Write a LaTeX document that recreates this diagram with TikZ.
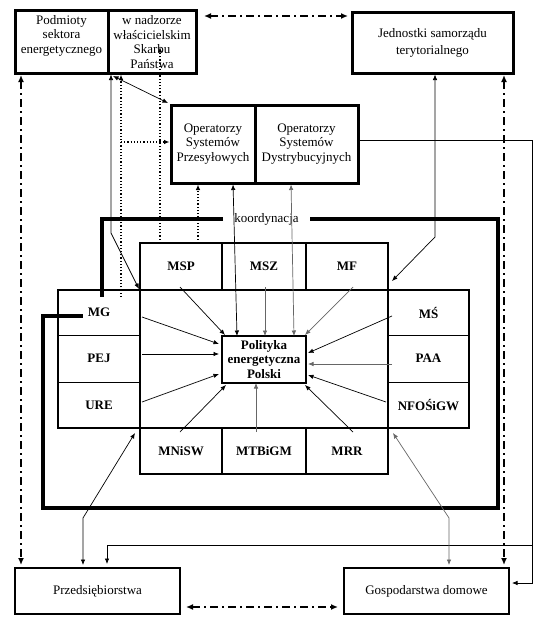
\documentclass[tikz,border=0pt]{standalone}
\usepackage{fontspec}
\setmainfont{Liberation Serif}
\usetikzlibrary{arrows.meta,calc}
\newcommand{\basefnt}{\fontsize{13}{14.5}\selectfont}
\tikzset{
  thickbox/.style={draw, line width=3pt, inner sep=0pt, outer sep=0pt, align=center},
  thinbox/.style={draw, line width=1.8pt, inner sep=0pt, outer sep=0pt, align=center},
  cell/.style={inner sep=0pt, outer sep=0pt, font=\basefnt\bfseries, align=center},
  txt/.style={inner sep=0pt, outer sep=0pt, align=center},
  conn/.style={line width=0.7pt, -{Latex[length=5.5pt,width=4.5pt]}},
  gconn/.style={conn, draw=black!60},
  biconn/.style={line width=0.7pt, {Latex[length=5.5pt,width=4.5pt]}-{Latex[length=5.5pt,width=4.5pt]}},
  gbiconn/.style={biconn, draw=black!60},
  dotconn/.style={line width=1.2pt, dash pattern=on 1.2pt off 2pt, -{Latex[length=5.5pt,width=4.5pt]}},
  ddash/.style={line width=2pt, dash pattern=on 8pt off 4pt on 2pt off 4pt, {Latex[length=7pt,width=6pt]}-{Latex[length=7pt,width=6pt]}},
  framepath/.style={line width=4pt, line join=miter},
  outl/.style={line width=2pt, line join=miter},
  divline/.style={line width=0.8pt}
}
\begin{document}
\begin{tikzpicture}[x=1pt,y=-1pt,font=\basefnt]
\useasboundingbox (0,0) rectangle (552,634);

% top boxes
\node[thickbox, minimum width=93pt, minimum height=62pt] (PSE) at (61.5,42) {};
\node[txt] (PSEt) at (61.5,35.5) {Podmioty\\sektora\\energetycznego};
\node[thickbox, minimum width=88pt, minimum height=62pt] (WNS) at (152,42) {w nadzorze\\właścicielskim\\Skarbu\\Państwa};
\node[thickbox, minimum width=161pt, minimum height=60pt] (JST) at (432.5,43) {Jednostki samorządu\\[2pt]terytorialnego};
\node[thickbox, minimum width=84pt, minimum height=78pt] (OSP) at (213,144) {Operatorzy\\Systemów\\Przesyłowych};
\node[thickbox, minimum width=103pt, minimum height=78pt] (OSD) at (306.5,144) {Operatorzy\\Systemów\\Dystrybucyjnych};

% cells
\node[cell, minimum width=82pt, minimum height=47pt] (MSP) at (181,266.5) {MSP};
\node[cell, minimum width=84pt, minimum height=47pt] (MSZ) at (264,266.5) {MSZ};
\node[cell, minimum width=82pt, minimum height=47pt] (MF) at (347,266.5) {MF};
\node[cell, minimum width=82pt, minimum height=45pt] (MG) at (99,312.5) {MG};
\node[cell, minimum width=82pt, minimum height=47pt] (PEJ) at (99,358.5) {PEJ};
\node[cell, minimum width=82pt, minimum height=46pt] (URE) at (99,405) {URE};
\node[cell, minimum width=81pt, minimum height=45pt] (MS) at (428.5,312.5) {MŚ};
\node[cell, minimum width=81pt, minimum height=47pt] (PAA) at (428.5,358.5) {PAA};
\node[cell, minimum width=81pt, minimum height=46pt] (NFO) at (428.5,405) {NFOŚiGW};
\node[cell, minimum width=82pt, minimum height=46pt] (MNISW) at (181,451) {MNiSW};
\node[cell, minimum width=84pt, minimum height=46pt] (MTB) at (264,451) {MTBiGM};
\node[cell, minimum width=82pt, minimum height=46pt] (MRR) at (347,451) {MRR};
\node[cell, draw, line width=2pt, minimum width=84pt, minimum height=47pt] (POL) at (264,359.5) {Polityka\\energetyczna\\Polski};

% cross outline
\draw[outl] (MSP.north west) -- (MF.north east) -- (MS.north west) -- (MS.north east)
  -- (NFO.south east) -- (MRR.north east) -- (MRR.south east) -- (MNISW.south west)
  -- (MNISW.north west) -- (URE.south west) -- (MG.north west) -- (MG.north east) -- cycle;
\draw[outl] (MG.north east) rectangle (NFO.south west);
\draw[outl] (MSZ.north west) -- (MSZ.south west) (MSZ.north east) -- (MSZ.south east);
\draw[outl] (MTB.north west) -- (MTB.south west) (MTB.north east) -- (MTB.south east);
\draw[divline] (PEJ.north west) -- (PEJ.north east) (URE.north west) -- (URE.north east);
\draw[divline] (PAA.north west) -- (PAA.north east) (NFO.north west) -- (NFO.north east);

% bottom boxes
\node[thinbox, minimum width=165pt, minimum height=46pt] (PRZ) at (97.5,591) {Przedsiębiorstwa};
\node[thinbox, minimum width=165pt, minimum height=46pt] (GOS) at (426.5,591) {Gospodarstwa domowe};

% koordynacja frame
\node[txt, minimum width=87pt] (KO) at (266.5,219) {koordynacja};
\coordinate (f1) at (498,508);
\coordinate (f2) at (43,316);
\coordinate (f3) at (83,316);
\coordinate (f4) at (102,297);
\draw[framepath] (KO.east) -| (f1) -| (f2) -- (f3);
\draw[framepath] (KO.west) -| (f4);

% arrows into Polityka
\coordinate (sMSP) at (180,287);
\coordinate (sMSZ) at (265,287);
\coordinate (sMF) at (353,287);
\coordinate (sMG) at (142,317);
\coordinate (sPEJ) at (142,354);
\coordinate (sURE) at (142,402);
\coordinate (sMS) at (392,316);
\coordinate (sPAA) at (392,364);
\coordinate (sNFO) at (386,402);
\coordinate (sMNISW) at (180,432);
\coordinate (sMTB) at (256,432);
\coordinate (sMRR) at (353,432);
\draw[conn] (sMSP) -- ($(POL.north west)+(3,-1)$);
\draw[gconn] (sMSZ) -- (sMSZ |- POL.north);
\draw[gconn] (sMF) -- ($(POL.north east)+(-1,-1)$);
\draw[conn] (sMG) -- ($(POL.west)+(-3,-15.5)$);
\draw[conn] (sPEJ) -- ($(POL.west)+(-3,-5.5)$);
\draw[conn] (sURE) -- ($(POL.west)+(-3,14.5)$);
\draw[conn] (sMS) -- ($(POL.east)+(2,-6.5)$);
\draw[gconn] (sPAA) -- ($(POL.east)+(2,4.5)$);
\draw[conn] (sNFO) -- ($(POL.east)+(2,15.5)$);
\draw[conn] (sMNISW) -- ($(POL.south west)+(4,2)$);
\draw[gconn] (sMTB) -- (sMTB |- POL.south);
\draw[conn] (sMRR) -- ($(POL.south east)+(-1,2)$);

% connectors from top
\coordinate (c1) at (111,233);
\draw[biconn, shorten <=1.5pt] ($(WNS.south west)+(3,0)$) -- (c1) -- ($(MG.north east)+(-1,-1)$);
\draw[biconn] ($(WNS.south west)+(5,3)$) -- ($(OSP.north west)+(-3,-2)$);
\coordinate (dv) at (121,297);
\draw[dotconn, shorten >=1.5pt] (dv) -- (dv |- WNS.south);
\draw[dotconn, shorten >=1.5pt] ($(dv |- OSP.west)+(0,-2)$) -- ($(OSP.west)+(0,-2)$);
\coordinate (dm) at (160,243);
\coordinate (dmt) at (160,47);
\draw[dotconn] (dm) -- (dmt);
\coordinate (dm2) at (198,243);
\draw[dotconn, shorten >=1.5pt] (dm2) -- (dm2 |- OSP.south);
\draw[biconn, shorten <=1.5pt] ($(OSP.south)+(20,0)$) -- ($(POL.north west)+(15,0)$);
\draw[gbiconn, shorten <=1.5pt] ($(OSD.south)+(-15.5,0)$) -- ($(POL.north east)+(-12,0)$);
\coordinate (j1) at (435,237);
\draw[biconn, shorten <=1.5pt] (j1 |- JST.south) -- (j1) -- ($(MS.north west)+(4,-9)$);

% OSD to households and enterprises
\coordinate (r1) at (532,583);
\coordinate (r2) at (532,545);
\coordinate (r3) at (107,545);
\draw[line width=0.7pt] ($(OSD.east)+(1.5,-4)$) -| (r2);
\draw[conn, shorten >=3pt] (r2) -- (r1) -- (r1 -| GOS.east);
\draw[conn, shorten >=4pt] (r2) -- (r3) -- (r3 |- PRZ.north);

% bottom boxes links to the frame cells
\coordinate (p1) at (83,518);
\coordinate (p2) at (135,433);
\draw[biconn, shorten <=3pt] (p1 |- PRZ.north) -- (p1) -- (p2);
\coordinate (g1) at (449,518);
\coordinate (g2) at (393,433);
\draw[gbiconn, shorten <=3pt] (g1 |- GOS.north) -- (g1) -- (g2);

% dash-dot links
\draw[ddash, shorten <=2pt, shorten >=3pt] ($(PSE.south west)+(6,0)$) -- ($(PRZ.north west)+(6,0)$);
\draw[ddash, shorten <=2pt, shorten >=3pt] ($(JST.south east)+(-9,0)$) -- ($(GOS.north east)+(-5,0)$);
\draw[ddash] ($(WNS.north east)+(8,5)$) -- ($(JST.north west)+(-4,3)$);
\draw[ddash] ($(PRZ.south east)+(6,-7)$) -- ($(GOS.south west)+(-6,-7)$);
\end{tikzpicture}
\end{document}
